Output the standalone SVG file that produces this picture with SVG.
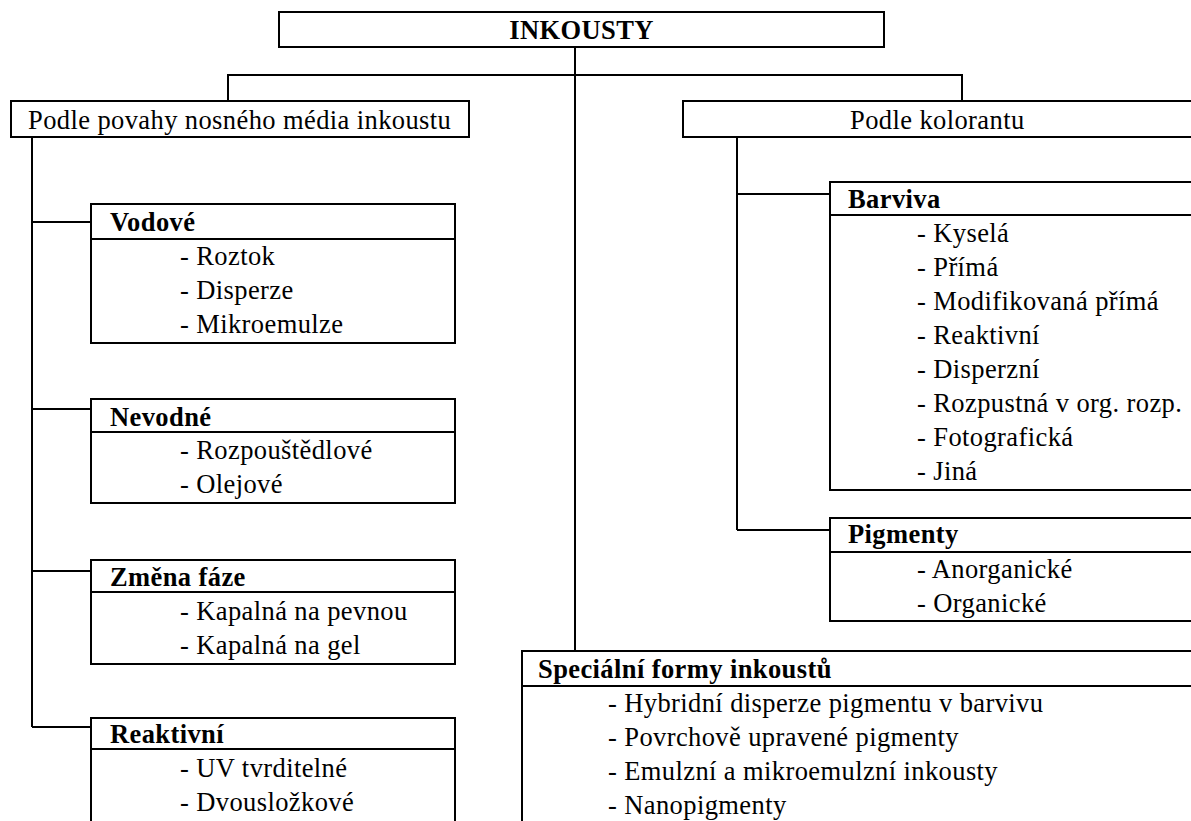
<svg xmlns="http://www.w3.org/2000/svg" width="1191" height="821" viewBox="0 0 1191 821">
<style>
rect{fill:#fff;stroke:#000;stroke-width:2}
.dv{stroke:#000;stroke-width:2;fill:none}
.cn line,.cn path{stroke:#000;stroke-width:2;fill:none}
text{font-family:"Liberation Serif","Times New Roman",serif;font-size:26.5px;letter-spacing:0.4px;fill:#000}
.b{font-weight:bold}
</style>
<rect x="0" y="0" width="1191" height="821" style="stroke:none"/>
<g class="cn" id="connectors">
<path d="M575,47 V651"/>
<path d="M228,101 V75 H962 V101"/>
<path d="M32,137 V727"/>
<line x1="32" y1="222" x2="91" y2="222"/>
<line x1="32" y1="409" x2="91" y2="409"/>
<line x1="32" y1="571" x2="91" y2="571"/>
<line x1="32" y1="727" x2="91" y2="727"/>
<path d="M737,137 V530"/>
<line x1="737" y1="194" x2="830" y2="194"/>
<line x1="737" y1="530" x2="830" y2="530"/>
</g>
<g id="inkousty">
<rect x="279" y="12" width="605" height="35"/>
<text class="b" x="581.5" y="39" text-anchor="middle">INKOUSTY</text>
</g>
<g id="podle-media">
<rect x="11" y="101" width="458" height="36"/>
<text x="28" y="129">Podle povahy nosného média inkoustu</text>
</g>
<g id="podle-kolorantu">
<rect x="683" y="101" width="520" height="36"/>
<text x="850" y="129">Podle kolorantu</text>
</g>
<g id="vodove">
<rect x="91" y="204" width="364" height="139"/>
<line class="dv" x1="91" y1="239" x2="455" y2="239"/>
<text class="b" x="110" y="231">Vodové</text>
<text x="180" y="265">- Roztok</text>
<text x="180" y="299">- Disperze</text>
<text x="180" y="333">- Mikroemulze</text>
</g>
<g id="nevodne">
<rect x="91" y="399" width="364" height="104"/>
<line class="dv" x1="91" y1="432" x2="455" y2="432"/>
<text class="b" x="110" y="426">Nevodné</text>
<text x="180" y="459">- Rozpouštědlové</text>
<text x="180" y="493">- Olejové</text>
</g>
<g id="zmena-faze">
<rect x="91" y="560" width="364" height="104"/>
<line class="dv" x1="91" y1="592" x2="455" y2="592"/>
<text class="b" x="110" y="586">Změna fáze</text>
<text x="180" y="620">- Kapalná na pevnou</text>
<text x="180" y="654">- Kapalná na gel</text>
</g>
<g id="reaktivni">
<rect x="91" y="718" width="364" height="120"/>
<line class="dv" x1="91" y1="749" x2="455" y2="749"/>
<text class="b" x="110" y="743">Reaktivní</text>
<text x="180" y="777">- UV tvrditelné</text>
<text x="180" y="811">- Dvousložkové</text>
</g>
<g id="barviva">
<rect x="830" y="182" width="373" height="308"/>
<line class="dv" x1="830" y1="215" x2="1203" y2="215"/>
<text class="b" x="848" y="208">Barviva</text>
<text x="917" y="242">- Kyselá</text>
<text x="917" y="276">- Přímá</text>
<text x="917" y="310">- Modifikovaná přímá</text>
<text x="917" y="344">- Reaktivní</text>
<text x="917" y="378">- Disperzní</text>
<text x="917" y="412">- Rozpustná v org. rozp.</text>
<text x="917" y="446">- Fotografická</text>
<text x="917" y="480">- Jiná</text>
</g>
<g id="pigmenty">
<rect x="830" y="518" width="373" height="103"/>
<line class="dv" x1="830" y1="552" x2="1203" y2="552"/>
<text class="b" x="848" y="543">Pigmenty</text>
<text x="917" y="578">- Anorganické</text>
<text x="917" y="612">- Organické</text>
</g>
<g id="specialni">
<rect x="522" y="651" width="681" height="190"/>
<line class="dv" x1="522" y1="686" x2="1203" y2="686"/>
<text class="b" x="538" y="678">Speciální formy inkoustů</text>
<text x="608" y="712">- Hybridní disperze pigmentu v barvivu</text>
<text x="608" y="746">- Povrchově upravené pigmenty</text>
<text x="608" y="780">- Emulzní a mikroemulzní inkousty</text>
<text x="608" y="814">- Nanopigmenty</text>
</g>
</svg>
